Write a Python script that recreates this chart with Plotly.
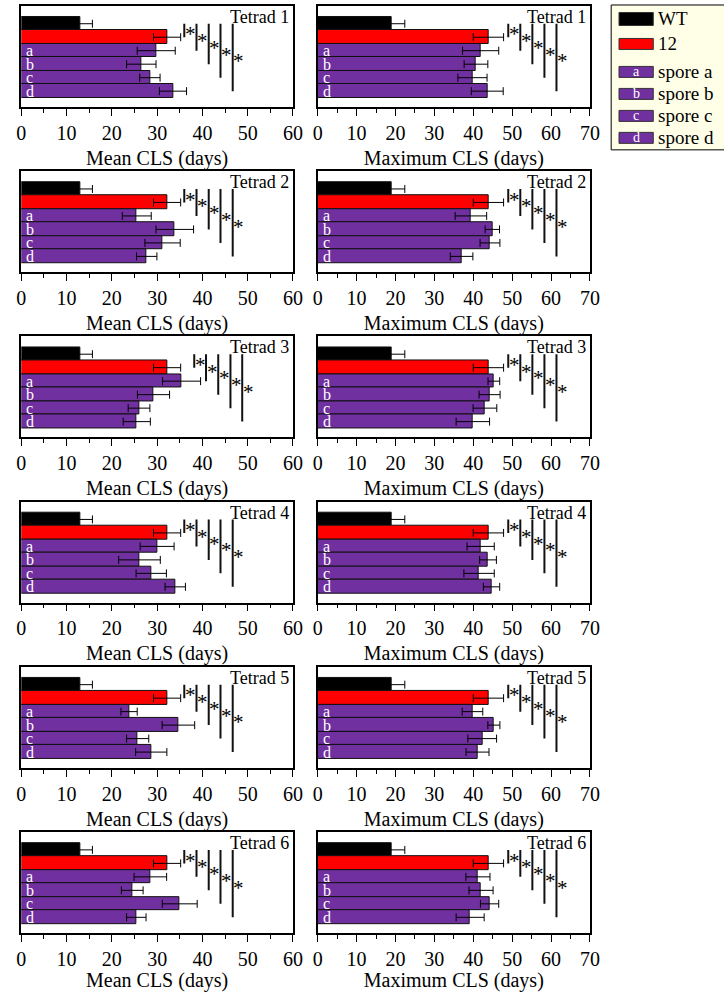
import plotly.graph_objects as go

# ---- data -------------------------------------------------------------
groups = ["WT", "12", "a", "b", "c", "d"]
legend_labels = ["WT", "12", "spore a", "spore b", "spore c", "spore d"]
tetrads = ["Tetrad 1", "Tetrad 2", "Tetrad 3", "Tetrad 4", "Tetrad 5", "Tetrad 6"]

wt_mean, wt_mean_err = 13.0, 2.7
mut_mean, mut_mean_err = 32.2, 3.0
wt_max, wt_max_err = 19.0, 3.4
mut_max, mut_max_err = 43.9, 3.9

# spores a-d of each tetrad
spore_mean = [
    [29.8, 26.5, 28.4, 33.5],
    [25.5, 33.9, 31.2, 27.7],
    [35.4, 29.2, 26.0, 25.5],
    [30.0, 26.1, 28.7, 34.0],
    [23.8, 34.7, 25.7, 28.7],
    [28.5, 24.5, 35.0, 25.4],
]
spore_mean_err = [
    [4.2, 3.25, 2.25, 3.0],
    [3.2, 4.15, 3.9, 2.25],
    [4.2, 3.55, 2.4, 3.0],
    [3.75, 4.6, 3.35, 2.25],
    [1.8, 3.6, 2.45, 3.45],
    [3.6, 2.4, 3.85, 2.15],
]
spore_max = [
    [41.9, 40.7, 39.8, 43.6],
    [39.4, 44.9, 44.3, 37.0],
    [45.3, 44.2, 43.0, 39.9],
    [41.9, 43.8, 41.5, 44.7],
    [39.8, 45.3, 42.3, 41.1],
    [41.2, 42.0, 44.2, 39.2],
]
spore_max_err = [
    [4.65, 3.05, 3.75, 4.1],
    [4.05, 1.85, 2.55, 2.9],
    [1.5, 2.7, 3.05, 4.3],
    [3.5, 2.15, 3.9, 2.1],
    [2.65, 1.55, 3.7, 2.95],
    [3.1, 3.1, 2.35, 3.6],
]

# x positions of the significance bars (WT vs each strain)
mean_sig_x = [
    [36.0, 38.7, 41.4, 44.0, 46.7],
    [36.0, 38.7, 41.4, 44.0, 46.7],
    [38.2, 40.8, 43.5, 46.2, 48.8],
    [36.0, 38.7, 41.4, 44.0, 46.7],
    [36.0, 38.7, 41.4, 44.0, 46.7],
    [36.0, 38.7, 41.4, 44.0, 46.7],
]
max_sig_x = [49.0, 52.1, 55.2, 58.3, 61.4]

# ---- styling ----------------------------------------------------------
W, H = 724, 992
SERIF = "Liberation Serif"
BLACK, RED, PURPLE = "#000000", "#FF0000", "#7030A0"
colors = [BLACK, RED, PURPLE, PURPLE, PURPLE, PURPLE]
ypos = [5, 4, 3, 2, 1, 0]

col_px = [(16.7, 294.0), (319.3, 597.3)]
row_top0, row_pitch, row_h = 6.0, 165.4, 101.0
xmax = [60, 70]
titles = ["Mean CLS (days)", "Maximum CLS (days)"]

fig = go.Figure()
shapes, annotations = [], []
layout_axes = {}

for r in range(6):
    top = row_top0 + r * row_pitch
    bot = top + row_h
    for c in range(2):
        k = r * 2 + c + 1
        xa = "x" if k == 1 else f"x{k}"
        ya = "y" if k == 1 else f"y{k}"
        if c == 0:
            vals = [wt_mean, mut_mean] + spore_mean[r]
            errs = [wt_mean_err, mut_mean_err] + spore_mean_err[r]
            sig = mean_sig_x[r]
        else:
            vals = [wt_max, mut_max] + spore_max[r]
            errs = [wt_max_err, mut_max_err] + spore_max_err[r]
            sig = max_sig_x

        fig.add_trace(go.Bar(
            x=vals, y=ypos, orientation="h", xaxis=xa, yaxis=ya,
            marker=dict(color=colors, line=dict(color="#111111", width=1)),
            width=1.0,
            error_x=dict(type="data", array=errs, visible=True,
                         color="#000000", thickness=1, width=4),
            showlegend=False, hoverinfo="skip",
        ))

        x0, x1 = col_px[c]
        layout_axes[f"xaxis{k}" if k > 1 else "xaxis"] = dict(
            domain=[x0 / W, x1 / W], anchor=ya, range=[0, xmax[c]],
            dtick=10, tick0=0, ticks="outside", ticklen=7, tickwidth=1,
            tickcolor="#000", showline=True, linecolor="#000", linewidth=1.5,
            mirror=True, showgrid=False, zeroline=False,
            tickfont=dict(family=SERIF, size=20, color="#000"),
            minor=dict(dtick=5, ticks="outside", ticklen=4, tickwidth=1,
                       tickcolor="#000", showgrid=False),
            title=dict(text=titles[c], standoff=8,
                       font=dict(family=SERIF, size=20, color="#000")),
            fixedrange=True,
        )
        layout_axes[f"yaxis{k}" if k > 1 else "yaxis"] = dict(
            domain=[1 - bot / H, 1 - top / H], anchor=xa,
            range=[-1.167, 6.315], showticklabels=False, ticks="",
            showline=True, linecolor="#000", linewidth=1.5, mirror=True,
            showgrid=False, zeroline=False, fixedrange=True,
        )

        # letters on the spore bars
        for g, yv in zip(groups[2:], ypos[2:]):
            annotations.append(dict(
                x=0, y=yv, xref=xa, yref=ya, text=g, showarrow=False,
                xanchor="left", yanchor="middle", xshift=4, yshift=0,
                borderpad=0,
                font=dict(family=SERIF, size=16, color="#FFFFFF"),
            ))

        # tetrad label
        annotations.append(dict(
            x=x1 / W, y=1 - top / H, xref="paper", yref="paper",
            text=tetrads[r], showarrow=False, xanchor="right", yanchor="top",
            xshift=-2, yshift=1,
            font=dict(family=SERIF, size=18, color="#000"),
        ))

        # significance bars with asterisks
        for i, sx in enumerate(sig):
            y_end = ypos[i + 1]
            shapes.append(dict(
                type="line", xref=xa, yref=ya, x0=sx, x1=sx,
                y0=ypos[0], y1=y_end, line=dict(color="#111111", width=2),
            ))
            annotations.append(dict(
                x=sx, y=(ypos[0] + y_end) / 2, xref=xa, yref=ya, text="*",
                showarrow=False, xanchor="center", yanchor="middle",
                xshift=6, yshift=-4,
                font=dict(family=SERIF, size=21, color="#000"),
            ))

# ---- legend -----------------------------------------------------------
lg_left, lg_top, lg_bot = 619, 5, 150
shapes.append(dict(type="rect", xref="paper", yref="paper",
                   x0=lg_left / W, x1=1.02, y0=1 - lg_bot / H, y1=1 - lg_top / H,
                   fillcolor="#FFFFE8", line=dict(color="#000", width=1),
                   layer="above"))
entry_y = [19, 44, 72, 94, 116, 138]
sw_h = [13, 11, 11, 11, 11, 11]
for lab, col, yc, hh, g in zip(legend_labels, colors, entry_y, sw_h, groups):
    shapes.append(dict(type="rect", xref="paper", yref="paper",
                       x0=627 / W, x1=662 / W,
                       y0=1 - (yc + hh / 2) / H, y1=1 - (yc - hh / 2) / H,
                       fillcolor=col, line=dict(color="#333", width=1),
                       layer="above"))
    if col == PURPLE:
        annotations.append(dict(
            x=644.5 / W, y=1 - yc / H, xref="paper", yref="paper", text=g,
            showarrow=False, xanchor="center", yanchor="middle",
            font=dict(family=SERIF, size=14, color="#FFFFFF")))
    annotations.append(dict(
        x=665 / W, y=1 - yc / H, xref="paper", yref="paper", text=lab,
        showarrow=False, xanchor="left", yanchor="middle",
        font=dict(family=SERIF, size=19, color="#000")))

fig.update_layout(
    width=W, height=H, margin=dict(l=0, r=0, t=0, b=0),
    paper_bgcolor="#FFFFFF", plot_bgcolor="#FFFFFF",
    barmode="overlay", bargap=0, showlegend=False,
    font=dict(family=SERIF, color="#000"),
    shapes=shapes, annotations=annotations, **layout_axes,
)

fig.write_html("out.html")
